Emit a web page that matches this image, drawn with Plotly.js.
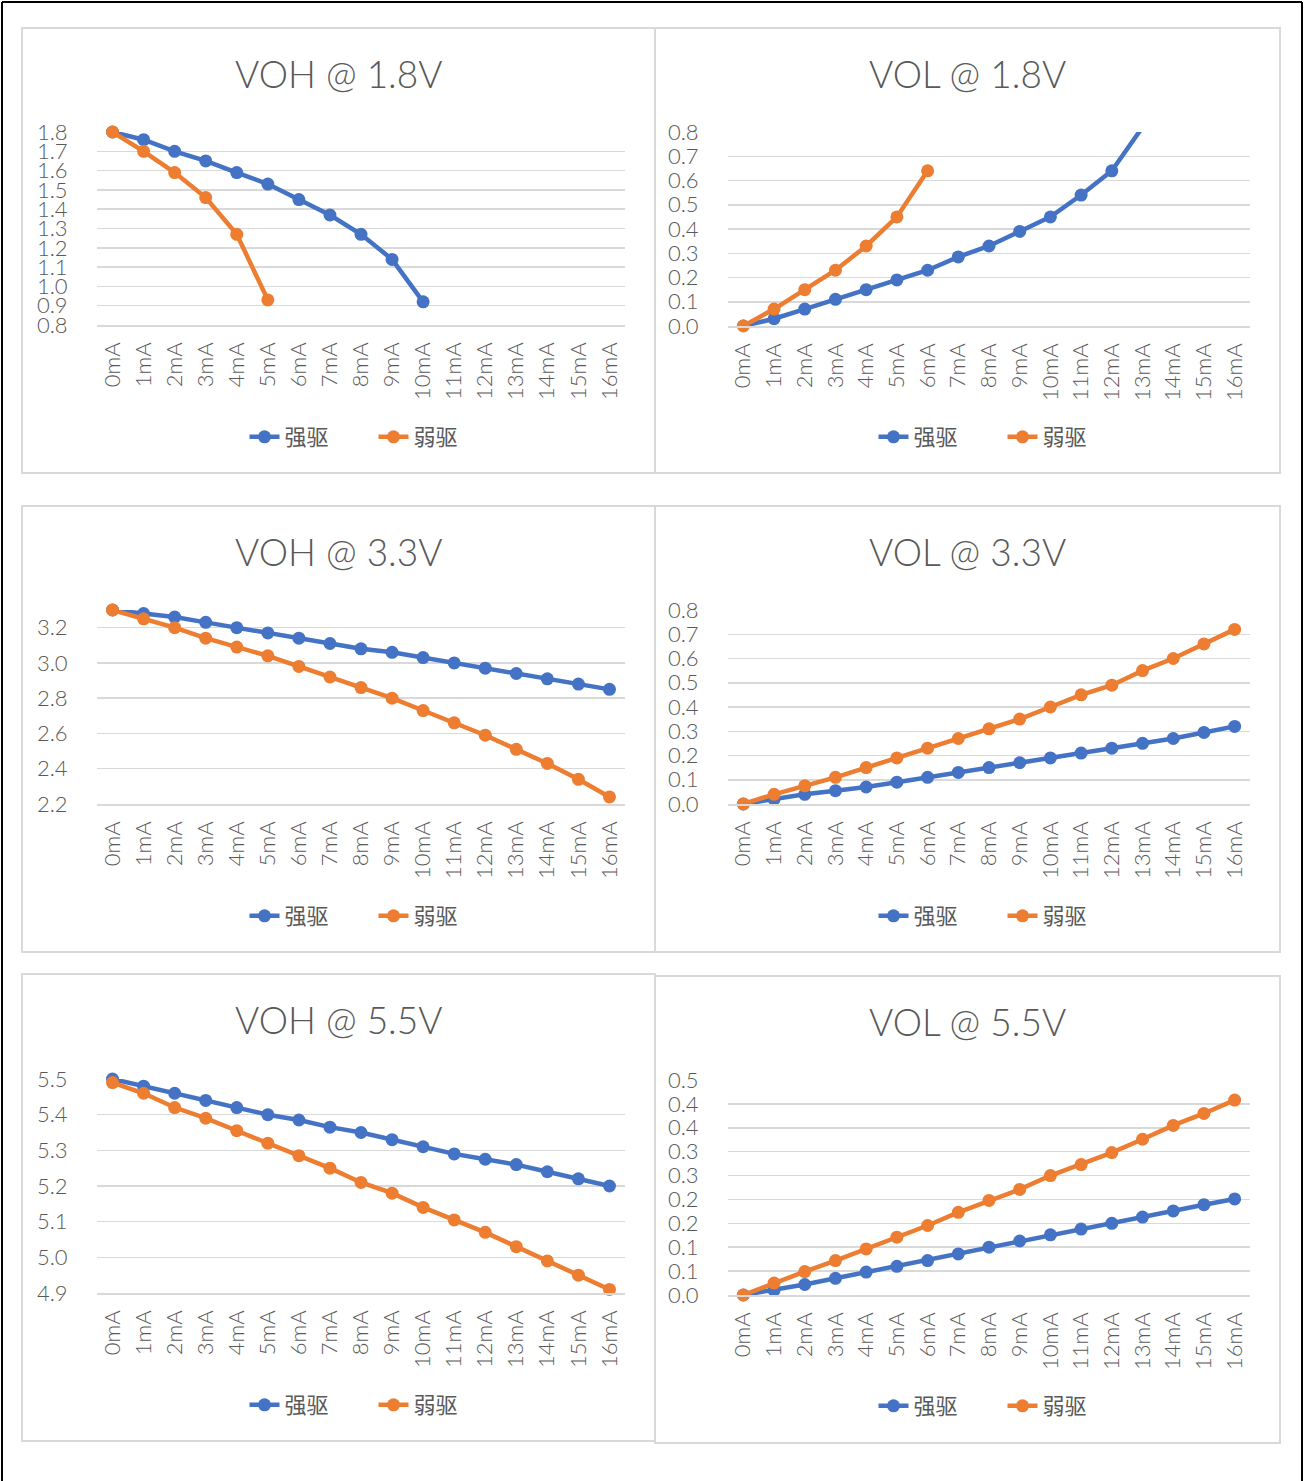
<!DOCTYPE html>
<html>
<head>
<meta charset="utf-8">
<script src="https://cdn.plot.ly/plotly-3.0.1.min.js"></script>
<style>html,body{margin:0;padding:0;background:#fff;}#chart{width:1305px;height:1481px;}</style>
</head>
<body>
<div id="chart"></div>
<script>
// ---- data ----
const categories = ['0mA','1mA','2mA','3mA','4mA','5mA','6mA','7mA','8mA','9mA','10mA','11mA','12mA','13mA','14mA','15mA','16mA'];
const seriesNames = ['强驱', '弱驱'];
const panelTitles = ['VOH @ 1.8V', 'VOL @ 1.8V', 'VOH @ 3.3V', 'VOL @ 3.3V', 'VOH @ 5.5V', 'VOL @ 5.5V'];

const voh18Strong = [1.80, 1.76, 1.70, 1.65, 1.59, 1.53, 1.45, 1.37, 1.27, 1.14, 0.92];
const voh18Weak   = [1.80, 1.70, 1.59, 1.46, 1.27, 0.93];
const vol18Strong = [0.00, 0.03, 0.07, 0.11, 0.15, 0.19, 0.23, 0.285, 0.33, 0.39, 0.45, 0.54, 0.64, 0.82];
const vol18Weak   = [0.00, 0.07, 0.15, 0.23, 0.33, 0.45, 0.64];
const voh33Strong = [3.30, 3.28, 3.26, 3.23, 3.20, 3.17, 3.14, 3.11, 3.08, 3.06, 3.03, 3.00, 2.97, 2.94, 2.91, 2.88, 2.85];
const voh33Weak   = [3.30, 3.25, 3.20, 3.14, 3.09, 3.04, 2.98, 2.92, 2.86, 2.80, 2.73, 2.66, 2.59, 2.51, 2.43, 2.34, 2.24];
const vol33Strong = [0.00, 0.02, 0.04, 0.055, 0.07, 0.09, 0.11, 0.13, 0.15, 0.17, 0.19, 0.21, 0.23, 0.25, 0.27, 0.295, 0.32];
const vol33Weak   = [0.00, 0.04, 0.075, 0.11, 0.15, 0.19, 0.23, 0.27, 0.31, 0.35, 0.40, 0.45, 0.49, 0.55, 0.60, 0.66, 0.72];
const voh55Strong = [5.50, 5.48, 5.46, 5.44, 5.42, 5.40, 5.385, 5.365, 5.35, 5.33, 5.31, 5.29, 5.275, 5.26, 5.24, 5.22, 5.20];
const voh55Weak   = [5.49, 5.46, 5.42, 5.39, 5.355, 5.32, 5.285, 5.25, 5.21, 5.18, 5.14, 5.105, 5.07, 5.03, 4.99, 4.95, 4.91];
const vol55Strong = [0.00, 0.01, 0.022, 0.035, 0.048, 0.060, 0.072, 0.086, 0.100, 0.113, 0.126, 0.138, 0.150, 0.163, 0.176, 0.189, 0.201];
const vol55Weak   = [0.00, 0.025, 0.049, 0.072, 0.0965, 0.121, 0.1455, 0.173, 0.198, 0.221, 0.250, 0.273, 0.298, 0.326, 0.355, 0.380, 0.408];

// y axis settings per panel
const yRanges = [[0.8, 1.8], [0, 0.8], [2.2, 3.3], [0, 0.8], [4.9, 5.5], [0, 0.45]];
const yTick0 = [0.8, 0, 2.2, 0, 4.9, 0];
const yDtick = [0.1, 0.1, 0.2, 0.1, 0.1, 0.05];
const vol55TickVals = [0, 0.05, 0.10, 0.15, 0.20, 0.25, 0.30, 0.35, 0.40, 0.45];
const vol55TickText = ['0.0', '0.1', '0.1', '0.2', '0.2', '0.3', '0.3', '0.4', '0.4', '0.5'];

const panelData = [
  [voh18Strong, voh18Weak], [vol18Strong, vol18Weak],
  [voh33Strong, voh33Weak], [vol33Strong, vol33Weak],
  [voh55Strong, voh55Weak], [vol55Strong, vol55Weak]
];

// ---- layout geometry (pixels) ----
const W = 1305, H = 1481;
const plotBoxes = [
  [97, 625, 132, 325], [728, 1250, 132, 326],
  [97, 625, 610, 804], [728, 1250, 610, 804],
  [97, 625, 1079, 1293], [728, 1250, 1080, 1295]
];
const panelBoxes = [
  [22, 655, 28, 473], [655, 1280, 28, 473],
  [22, 655, 506, 952], [655, 1280, 506, 952],
  [22, 655, 974, 1441], [655, 1280, 976, 1443]
];
const titleY = [73, 73, 551, 551, 1019, 1021];
const legendY = [437, 437, 916, 916, 1405, 1406];

const colors = ['#4472C4', '#ED7D31'];
const gray = '#595959';
const fontFam = 'Lato, "Noto Sans", sans-serif';
const cjkFam = '"Noto Sans CJK SC", "Noto Sans", sans-serif';

const px = x => x / W;
const py = y => 1 - y / H;

const traces = [];
const layout = {
  width: W, height: H,
  margin: {l: 0, r: 0, t: 0, b: 0},
  paper_bgcolor: '#ffffff', plot_bgcolor: '#ffffff',
  showlegend: true,
  annotations: [],
  shapes: []
};

for (let p = 0; p < 6; p++) {
  const idx = p === 0 ? '' : String(p + 1);
  const xa = 'x' + idx, ya = 'y' + idx;
  const legName = p === 0 ? 'legend' : 'legend' + (p + 1);
  const [x0, x1, y0, y1] = plotBoxes[p];
  const yr = yRanges[p];

  for (let s = 0; s < 2; s++) {
    const vals = panelData[p][s];
    const exceeds = vals.some(v => v > yr[1] + 1e-9);
    traces.push({
      type: 'scatter', mode: 'lines+markers',
      x: categories.slice(0, vals.length), y: vals,
      xaxis: xa, yaxis: ya,
      name: seriesNames[s], legend: legName,
      line: {color: colors[s], width: 4.5},
      marker: {color: colors[s], size: 13, opacity: 1, line: {width: 0}},
      cliponaxis: exceeds,
      hoverinfo: 'skip'
    });
  }

  layout['xaxis' + idx] = {
    domain: [px(x0), px(x1)], anchor: ya,
    type: 'category', categoryorder: 'array', categoryarray: categories,
    range: [-0.5, categories.length - 0.5],
    tickmode: 'array', tickvals: categories, ticktext: categories,
    tickangle: -90, showgrid: false, zeroline: false,
    showline: true, linecolor: '#d9d9d9', linewidth: 1.5,
    ticks: 'outside', ticklen: 7, tickcolor: 'rgba(0,0,0,0)',
    tickfont: {family: fontFam, size: 22, color: gray, weight: 300},
    fixedrange: true
  };
  const yax = {
    domain: [py(y1), py(y0)], anchor: xa,
    range: yr, showgrid: true, gridcolor: '#d9d9d9', gridwidth: 1.5,
    zeroline: false, showline: false,
    ticks: 'outside', ticklen: 24, tickcolor: 'rgba(0,0,0,0)',
    tickfont: {family: fontFam, size: 22, color: gray, weight: 300},
    fixedrange: true
  };
  if (p === 5) {
    yax.tickmode = 'array'; yax.tickvals = vol55TickVals; yax.ticktext = vol55TickText;
  } else {
    yax.tickmode = 'linear'; yax.tick0 = yTick0[p]; yax.dtick = yDtick[p]; yax.tickformat = '.1f';
  }
  layout['yaxis' + idx] = yax;

  const [bx0, bx1, by0, by1] = panelBoxes[p];
  layout.shapes.push({
    type: 'rect', xref: 'paper', yref: 'paper',
    x0: px(bx0), x1: px(bx1), y0: py(by1), y1: py(by0),
    line: {color: '#d9d9d9', width: 2}, fillcolor: 'rgba(0,0,0,0)', layer: 'below'
  });

  layout.annotations.push({
    xref: 'paper', yref: 'paper', x: px((bx0 + bx1) / 2), y: py(titleY[p]),
    xanchor: 'center', yanchor: 'middle', showarrow: false,
    text: panelTitles[p], font: {family: fontFam, size: 37, color: gray, weight: 300}
  });

  layout[legName] = {
    orientation: 'h', x: px((bx0 + bx1) / 2 + 35), y: py(legendY[p]),
    xanchor: 'center', yanchor: 'middle',
    font: {family: cjkFam, size: 22, color: gray},
    bgcolor: 'rgba(0,0,0,0)', itemclick: false, itemdoubleclick: false,
    itemwidth: 30, tracegroupgap: 0,
    entrywidth: 84, entrywidthmode: 'pixels'
  };
}

// outer black frame
layout.shapes.push(
  {type: 'line', xref: 'paper', yref: 'paper', x0: px(2), x1: px(2), y0: py(2), y1: py(H + 5), line: {color: '#000', width: 2}},
  {type: 'line', xref: 'paper', yref: 'paper', x0: px(2), x1: px(1302), y0: py(2), y1: py(2), line: {color: '#000', width: 2}},
  {type: 'line', xref: 'paper', yref: 'paper', x0: px(1302), x1: px(1302), y0: py(2), y1: py(H + 5), line: {color: '#000', width: 2}}
);

Plotly.newPlot('chart', traces, layout, {staticPlot: true, displayModeBar: false});
</script>
</body>
</html>
